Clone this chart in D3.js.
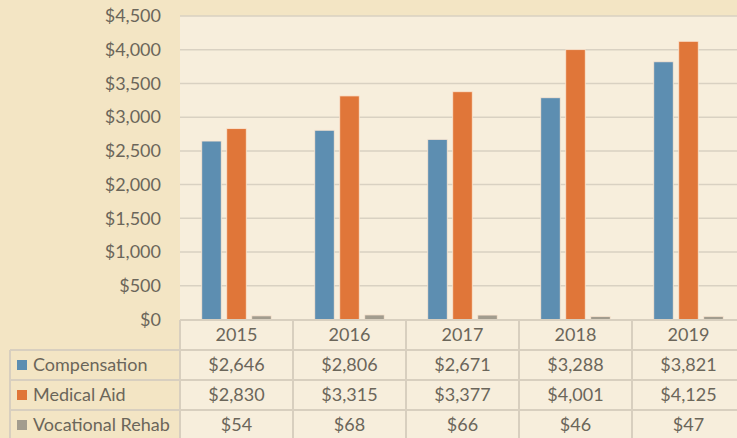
<!DOCTYPE html>
<html lang="en">
<head>
<meta charset="UTF-8">
<title>Claims Cost</title>
<style>
  body { margin: 0; background: #F3E5C4; }
  text { font-family: Lato, "Noto Sans", sans-serif; fill: #6B665A; }
</style>
</head>
<body>
<svg height="438" width="737"></svg>
<script src="https://d3js.org/d3.v7.min.js"></script>
<script>

  // values
  var years = ["2015", "2016", "2017", "2018", "2019"];
  var seriesNames = ["Compensation", "Medical Aid", "Vocational Rehab"];
  var compensation = [2646, 2806, 2671, 3288, 3821];
  var medicalAid = [2830, 3315, 3377, 4001, 4125];
  var vocationalRehab = [54, 68, 66, 46, 47];
  var yTicks = [0, 500, 1000, 1500, 2000, 2500, 3000, 3500, 4000, 4500];

  var colors = ["#5D8EB1", "#E07639", "#A29C8E"];
  var seriesValues = [compensation, medicalAid, vocationalRehab];

  var svg = d3.select("svg");
  var W = 737, H = 438;

  var plotLeft = 180, plotTop = 16, plotBottom = 320;
  var colW = 113, rowH = 30, legendLeft = 10;
  var fmt = function(v) { return "$" + d3.format(",")(v); };

  var x = d3.scaleBand().domain(years).range([plotLeft, plotLeft + colW * years.length]);
  var xInner = d3.scaleBand().domain(seriesNames).range([0, x.bandwidth()])
    .paddingInner(0.22).paddingOuter(0.87);
  var y = d3.scaleLinear().domain([0, 4500]).range([plotBottom - 0.5, plotTop]);

  // light backgrounds
  svg.append("rect")
    .attr("x", plotLeft).attr("y", plotTop)
    .attr("width", W - plotLeft).attr("height", H - plotTop)
    .attr("fill", "#F7EEDC");

  // gridlines
  svg.append("g").selectAll("line")
    .data(yTicks.slice(1))
    .join("line")
    .attr("x1", plotLeft).attr("x2", W)
    .attr("y1", function(d) { return y(d); })
    .attr("y2", function(d) { return y(d); })
    .attr("stroke", "#D9D1C2").attr("stroke-width", 1.5);

  // y labels
  svg.append("g").selectAll("text")
    .data(yTicks)
    .join("text")
    .attr("x", 161)
    .attr("y", function(d) { return y(d); })
    .attr("dy", "0.35em")
    .attr("text-anchor", "end")
    .attr("font-size", 18)
    .text(fmt);

  // bars
  var rows = [];
  years.forEach(function(yr, i) {
    seriesNames.forEach(function(s, j) {
      rows.push({ year: yr, series: s, value: seriesValues[j][i], color: colors[j] });
    });
  });

  svg.append("g").selectAll("rect")
    .data(rows)
    .join("rect")
    .attr("x", function(d) { return x(d.year) + xInner(d.series); })
    .attr("width", xInner.bandwidth())
    .attr("y", function(d) { return y(d.value); })
    .attr("height", function(d) { return y(0) - y(d.value); })
    .attr("fill", function(d) { return d.color; })
    .attr("stroke", "#FBE6D2").attr("stroke-width", 0.8);

  // data table
  var table = svg.append("g");
  var lineColor = "#D8CFBF";
  var tableRight = plotLeft + colW * years.length;

  // horizontal lines
  table.append("line")
    .attr("x1", plotLeft).attr("x2", tableRight)
    .attr("y1", plotBottom).attr("y2", plotBottom)
    .attr("stroke", lineColor).attr("stroke-width", 2);
  d3.range(1, 5).forEach(function(r) {
    table.append("line")
      .attr("x1", legendLeft).attr("x2", tableRight)
      .attr("y1", plotBottom + r * rowH).attr("y2", plotBottom + r * rowH)
      .attr("stroke", lineColor).attr("stroke-width", 2);
  });

  // vertical lines
  table.append("line")
    .attr("x1", legendLeft).attr("x2", legendLeft)
    .attr("y1", plotBottom + rowH).attr("y2", H)
    .attr("stroke", lineColor).attr("stroke-width", 2);
  d3.range(0, years.length + 1).forEach(function(c) {
    table.append("line")
      .attr("x1", plotLeft + c * colW).attr("x2", plotLeft + c * colW)
      .attr("y1", plotBottom).attr("y2", H)
      .attr("stroke", lineColor).attr("stroke-width", 2);
  });

  // year headers
  table.selectAll(".yr")
    .data(years)
    .join("text")
    .attr("class", "yr")
    .attr("x", function(d) { return x(d) + x.bandwidth() / 2; })
    .attr("y", plotBottom + rowH / 2)
    .attr("dy", "0.35em")
    .attr("text-anchor", "middle")
    .attr("font-size", 18)
    .text(function(d) { return d; });

  // series rows
  seriesNames.forEach(function(s, j) {
    var cy = plotBottom + rowH * (j + 1) + rowH / 2;
    table.append("rect")
      .attr("x", 17).attr("y", cy - 5)
      .attr("width", 10).attr("height", 10)
      .attr("fill", colors[j]);
    table.append("text")
      .attr("x", 33).attr("y", cy).attr("dy", "0.35em")
      .attr("font-size", 18)
      .text(s);
    table.selectAll(".v" + j)
      .data(seriesValues[j])
      .join("text")
      .attr("class", "v" + j)
      .attr("x", function(d, i) { return x(years[i]) + x.bandwidth() / 2; })
      .attr("y", cy).attr("dy", "0.35em")
      .attr("text-anchor", "middle")
      .attr("font-size", 18)
      .text(fmt);
  });

</script>
</body>
</html>
